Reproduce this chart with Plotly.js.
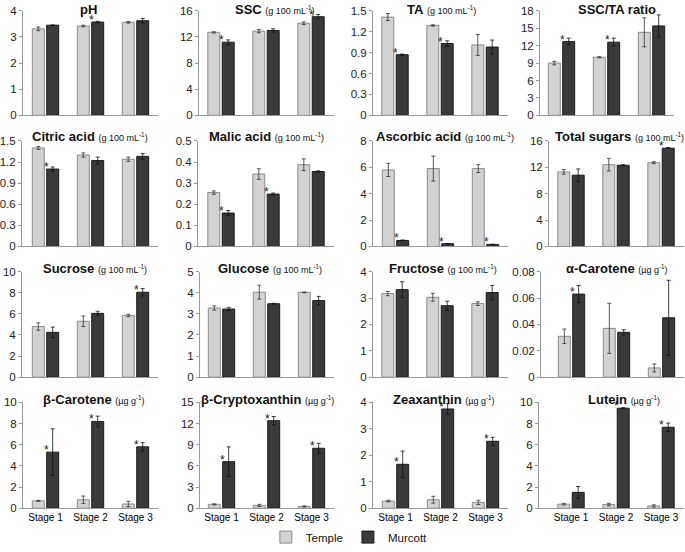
<!DOCTYPE html>
<html>
<head>
<meta charset="utf-8">
<script src="https://cdn.plot.ly/plotly-3.0.1.min.js"></script>
<style>
  body { margin: 0; background: #fff; }
  #chart { width: 685px; height: 552px; }
</style>
</head>
<body>
<div id="chart"></div>
<script>
// stage labels on the x axis
const stages = ['Stage 1', 'Stage 2', 'Stage 3'];

// values: mean and error for Temple (T) and Murcott (M)
// sig = 1 where the Murcott bar carries a star
const phT = [3.31, 3.42, 3.56], phTErr = [0.07, 0.03, 0.03];
const phM = [3.45, 3.57, 3.62], phMErr = [0.01, 0.03, 0.09];
const phSig = [0, 1, 0];

const sscT = [12.7, 12.9, 14.1], sscTErr = [0.1, 0.25, 0.2];
const sscM = [11.2, 13.0, 15.1], sscMErr = [0.35, 0.25, 0.35];
const sscSig = [1, 0, 1];

const taT = [1.41, 1.29, 1.01], taTErr = [0.05, 0.01, 0.15];
const taM = [0.87, 1.03, 0.98], taMErr = [0.01, 0.04, 0.1];
const taSig = [1, 1, 0];

const ratioT = [9.0, 10.0, 14.3], ratioTErr = [0.3, 0.1, 2.5];
const ratioM = [12.7, 12.6, 15.4], ratioMErr = [0.6, 0.7, 1.9];
const ratioSig = [1, 1, 0];

const citricT = [1.40, 1.30, 1.24], citricTErr = [0.02, 0.03, 0.03];
const citricM = [1.10, 1.22, 1.28], citricMErr = [0.03, 0.05, 0.04];
const citricSig = [1, 0, 0];

const malicT = [0.255, 0.343, 0.387], malicTErr = [0.008, 0.025, 0.028];
const malicM = [0.158, 0.248, 0.355], malicMErr = [0.012, 0.005, 0.003];
const malicSig = [1, 1, 0];

const ascorbicT = [5.8, 5.9, 5.9], ascorbicTErr = [0.5, 0.95, 0.3];
const ascorbicM = [0.45, 0.2, 0.15], ascorbicMErr = [0.03, 0.02, 0.01];
const ascorbicSig = [1, 1, 1];

const sugarsT = [11.3, 12.4, 12.7], sugarsTErr = [0.35, 0.95, 0.15];
const sugarsM = [10.8, 12.3, 14.9], sugarsMErr = [0.95, 0.1, 0.1];
const sugarsSig = [0, 0, 1];

const sucroseT = [4.8, 5.3, 5.85], sucroseTErr = [0.35, 0.5, 0.12];
const sucroseM = [4.25, 6.05, 8.05], sucroseMErr = [0.5, 0.2, 0.35];
const sucroseSig = [0, 0, 1];

const glucoseT = [3.28, 4.03, 4.02], glucoseTErr = [0.1, 0.33, 0.02];
const glucoseM = [3.23, 3.48, 3.63], glucoseMErr = [0.08, 0.02, 0.2];
const glucoseSig = [0, 0, 0];

const fructoseT = [3.17, 3.03, 2.79], fructoseTErr = [0.08, 0.15, 0.07];
const fructoseM = [3.32, 2.71, 3.21], fructoseMErr = [0.3, 0.17, 0.27];
const fructoseSig = [0, 0, 0];

const aCarT = [0.031, 0.037, 0.007], aCarTErr = [0.0055, 0.019, 0.003];
const aCarM = [0.063, 0.034, 0.045], aCarMErr = [0.0065, 0.002, 0.0285];
const aCarSig = [1, 0, 0];

const bCarT = [0.7, 0.8, 0.4], bCarTErr = [0.05, 0.35, 0.25];
const bCarM = [5.3, 8.2, 5.8], bCarMErr = [2.2, 0.5, 0.4];
const bCarSig = [1, 1, 1];

const bCryT = [0.55, 0.4, 0.25], bCryTErr = [0.08, 0.15, 0.08];
const bCryM = [6.6, 12.4, 8.5], bCryMErr = [2.1, 0.6, 0.7];
const bCrySig = [1, 1, 1];

const zeaT = [0.27, 0.32, 0.22], zeaTErr = [0.03, 0.13, 0.08];
const zeaM = [1.66, 3.75, 2.53], zeaMErr = [0.5, 0.2, 0.15];
const zeaSig = [1, 1, 1];

const luteinT = [0.38, 0.35, 0.22], luteinTErr = [0.08, 0.12, 0.1];
const luteinM = [1.5, 9.45, 7.65], luteinMErr = [0.55, 0.05, 0.4];
const luteinSig = [0, 1, 1];

// panel titles
const gUnit = '<span style="font-size:9px">(g 100 mL<sup>-1</sup>)</span>';
const ugUnit = '<span style="font-size:9px">(µg g<sup>-1</sup>)</span>';

// one row per panel, built from the arrays above
const panels = [
  {title: '<b>pH</b>', t: phT, te: phTErr, m: phM, me: phMErr, sig: phSig, ymax: 4, dtick: 1},
  {title: '<b>SSC</b> ' + gUnit, t: sscT, te: sscTErr, m: sscM, me: sscMErr, sig: sscSig, ymax: 16, dtick: 4},
  {title: '<b>TA</b> ' + gUnit, t: taT, te: taTErr, m: taM, me: taMErr, sig: taSig, ymax: 1.5, dtick: 0.3},
  {title: '<b>SSC/TA ratio</b>', t: ratioT, te: ratioTErr, m: ratioM, me: ratioMErr, sig: ratioSig, ymax: 18, dtick: 3},
  {title: '<b>Citric acid</b> ' + gUnit, t: citricT, te: citricTErr, m: citricM, me: citricMErr, sig: citricSig, ymax: 1.5, dtick: 0.3},
  {title: '<b>Malic acid</b> ' + gUnit, t: malicT, te: malicTErr, m: malicM, me: malicMErr, sig: malicSig, ymax: 0.5, dtick: 0.1},
  {title: '<b>Ascorbic acid</b> ' + gUnit, t: ascorbicT, te: ascorbicTErr, m: ascorbicM, me: ascorbicMErr, sig: ascorbicSig, ymax: 8, dtick: 2},
  {title: '<b>Total sugars</b> ' + gUnit, t: sugarsT, te: sugarsTErr, m: sugarsM, me: sugarsMErr, sig: sugarsSig, ymax: 16, dtick: 4},
  {title: '<b>Sucrose</b> ' + gUnit, t: sucroseT, te: sucroseTErr, m: sucroseM, me: sucroseMErr, sig: sucroseSig, ymax: 10, dtick: 2},
  {title: '<b>Glucose</b> ' + gUnit, t: glucoseT, te: glucoseTErr, m: glucoseM, me: glucoseMErr, sig: glucoseSig, ymax: 5, dtick: 1},
  {title: '<b>Fructose</b> ' + gUnit, t: fructoseT, te: fructoseTErr, m: fructoseM, me: fructoseMErr, sig: fructoseSig, ymax: 4, dtick: 1},
  {title: '<b>α-Carotene</b> ' + ugUnit, t: aCarT, te: aCarTErr, m: aCarM, me: aCarMErr, sig: aCarSig, ymax: 0.08, dtick: 0.02},
  {title: '<b>β-Carotene</b> ' + ugUnit, t: bCarT, te: bCarTErr, m: bCarM, me: bCarMErr, sig: bCarSig, ymax: 10, dtick: 2},
  {title: '<b>β-Cryptoxanthin</b> ' + ugUnit, t: bCryT, te: bCryTErr, m: bCryM, me: bCryMErr, sig: bCrySig, ymax: 15, dtick: 3},
  {title: '<b>Zeaxanthin</b> ' + ugUnit, t: zeaT, te: zeaTErr, m: zeaM, me: zeaMErr, sig: zeaSig, ymax: 4, dtick: 1},
  {title: '<b>Lutein</b> ' + ugUnit, t: luteinT, te: luteinTErr, m: luteinM, me: luteinMErr, sig: luteinSig, ymax: 10, dtick: 2}
];

const W = 685, H = 552;
const axisLeft = [23, 199, 373, 540, 22, 198, 373, 549, 22, 200, 373, 541, 23, 200, 373, 539];
const firstCenter = [45.5, 221, 395, 561.5, 45.5, 221, 395.5, 571, 45.5, 221.5, 395, 571.5, 45.5, 221.5, 395.5, 571];
const titleX = [88, 275, 441, 617, 90, 266, 445, 619, 95, 270, 443, 617, 94, 267, 444, 624];
const rowTop = [11, 143, 275.7, 408.3];
const rowBottom = [117, 250, 382.7, 515.7];
const titleY = [10, 138, 272, 405];
const stageStep = 45; // px between stage groups

const font = 'Arial, "Liberation Sans", sans-serif';
const templeFill = '#d2d2d2', templeLine = '#8c8c8c';
const murcottFill = '#3a3a3a', murcottLine = '#1a1a1a';
const axisColor = '#9a9a9a';

let data = [];
let layout = {
  width: W, height: H,
  margin: {l: 0, r: 0, t: 0, b: 0},
  paper_bgcolor: '#fff', plot_bgcolor: '#fff',
  font: {family: font, color: '#222'},
  barmode: 'group', bargap: 0.36, bargroupgap: 0.17,
  showlegend: true,
  legend: {
    orientation: 'h', x: 0.51, xanchor: 'center',
    y: 1 - 545 / H, yanchor: 'middle',
    font: {size: 11.5, color: '#111'}, traceorder: 'normal'
  },
  annotations: []
};

for (let i = 0; i < panels.length; i++) {
  let p = panels[i];
  let row = Math.floor(i / 4);
  let n = i === 0 ? '' : String(i + 1);
  let xref = 'x' + n, yref = 'y' + n;
  let xs = [0, 1, 2];

  data.push({
    type: 'bar', name: 'Temple', x: xs, y: p.t,
    xaxis: xref, yaxis: yref,
    marker: {color: templeFill, line: {color: templeLine, width: 1}},
    error_y: {type: 'data', array: p.te, color: '#333', thickness: 0.8, width: 2},
    legendgroup: 'T', showlegend: i === 0, hoverinfo: 'y'
  });
  data.push({
    type: 'bar', name: 'Murcott', x: xs, y: p.m,
    xaxis: xref, yaxis: yref,
    marker: {color: murcottFill, line: {color: murcottLine, width: 1}},
    error_y: {type: 'data', array: p.me, color: '#111', thickness: 0.8, width: 2},
    legendgroup: 'M', showlegend: i === 0, hoverinfo: 'y'
  });

  // stars next to the top of significant Murcott bars
  for (let k = 0; k < 3; k++) {
    if (p.sig[k]) {
      layout.annotations.push({
        xref: xref, yref: yref, x: k + 0.02, y: p.m[k],
        text: '*', showarrow: false, xanchor: 'center', yanchor: 'middle',
        yshift: 2, font: {size: 12, color: '#222', family: font}
      });
    }
  }

  let L = axisLeft[i], c0 = firstCenter[i];
  let ticks = [];
  for (let k = 0; k * p.dtick <= p.ymax + 1e-9; k++) ticks.push(+(k * p.dtick).toFixed(4));

  layout['xaxis' + n] = {
    domain: [L / W, (c0 + 2.5 * stageStep) / W],
    range: [-(c0 - L) / stageStep, 2.5],
    anchor: yref, showline: true, linecolor: axisColor, linewidth: 1,
    ticks: '', tickmode: 'array', tickvals: xs, ticktext: stages,
    showticklabels: row === 3, tickfont: {size: 10, color: '#000'},
    showgrid: false, zeroline: false, fixedrange: true
  };
  layout['yaxis' + n] = {
    domain: [1 - rowBottom[row] / H, 1 - rowTop[row] / H],
    range: [0, p.ymax],
    anchor: xref, showline: true, linecolor: axisColor, linewidth: 1,
    ticks: 'outside', ticklen: 3, tickcolor: axisColor,
    tickmode: 'array', tickvals: ticks,
    tickfont: {size: 11.5, color: '#222'},
    showgrid: false, zeroline: false, fixedrange: true
  };

  layout.annotations.push({
    xref: 'paper', yref: 'paper',
    x: titleX[i] / W, y: 1 - titleY[row] / H,
    xanchor: 'center', yanchor: 'middle',
    text: p.title, showarrow: false,
    font: {size: 13, color: '#111', family: font}
  });
}

Plotly.newPlot('chart', data, layout, {displayModeBar: false, staticPlot: true});
</script>
</body>
</html>
